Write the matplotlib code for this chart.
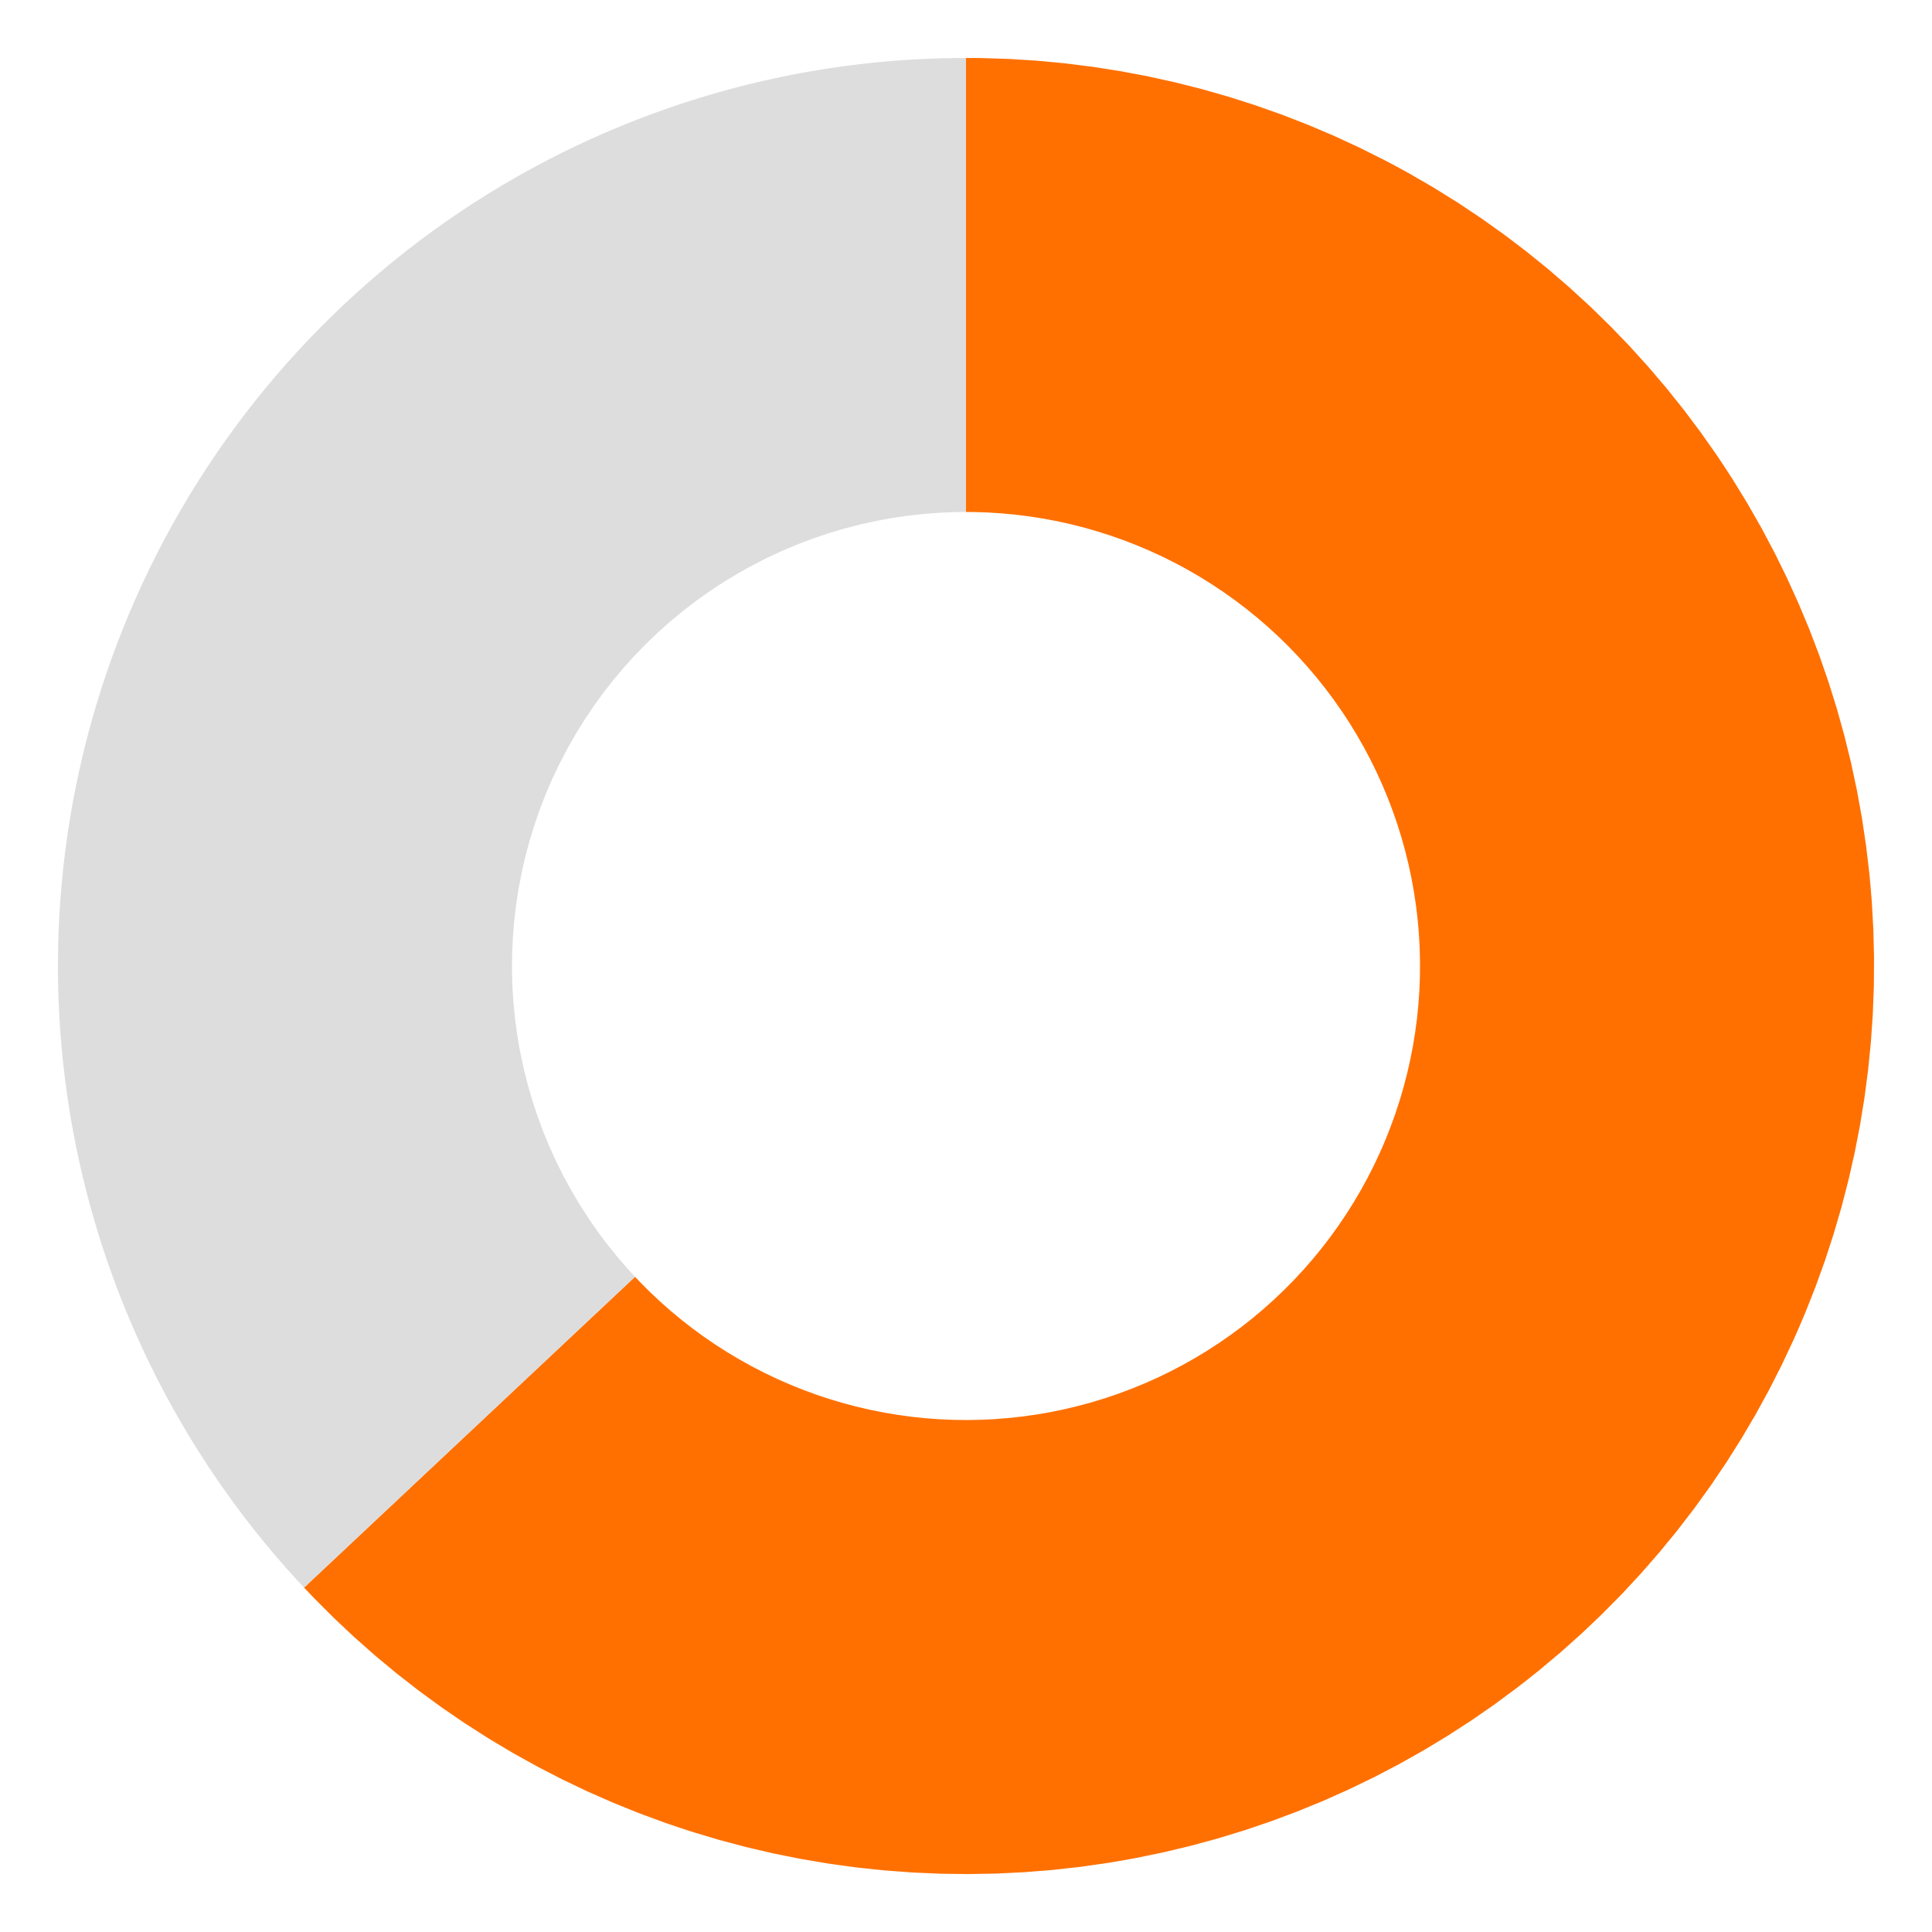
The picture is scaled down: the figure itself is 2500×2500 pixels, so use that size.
import matplotlib
matplotlib.use("Agg")
import matplotlib.pyplot as plt

# Donut data: share completed vs remaining
labels = ["Done", "Remaining"]
values = [63, 37]
colors = ["#FF7000", "#DDDDDD"]

fig = plt.figure(figsize=(10, 10), dpi=250)
ax = fig.add_axes([0, 0, 1, 1])

ax.pie(
    values,
    colors=colors,
    startangle=90,
    counterclock=False,
    radius=1.0,
    wedgeprops=dict(width=0.5, linewidth=0),
)

lim = 1250 / 1175
ax.set_xlim(-lim, lim)
ax.set_ylim(-lim, lim)
ax.set_aspect("equal")
ax.axis("off")

fig.savefig("out.png", dpi=250, facecolor="white")
